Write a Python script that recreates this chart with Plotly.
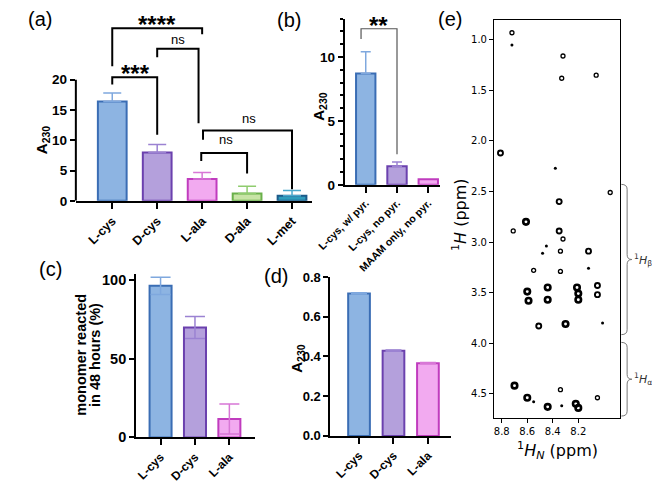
import plotly.graph_objects as go

W, H = 652, 489

# ---------------- data ----------------
a_cats = ["L-cys", "D-cys", "L-ala", "D-ala", "L-met"]
a_vals = [16.4, 8.0, 3.6, 1.2, 0.85]
a_errs = [1.4, 1.3, 1.1, 1.2, 0.85]

b_cats = ["L-cys, w/ pyr.", "L-cys, no pyr.", "MAAM only, no pyr."]
b_vals = [8.7, 1.45, 0.44]
b_errs = [1.7, 0.33, 0.0]

c_cats = ["L-cys", "D-cys", "L-ala"]
c_vals = [96.5, 70.0, 11.7]
c_errs = [5.5, 7.0, 9.5]

d_cats = ["L-cys", "D-cys", "L-ala"]
d_vals = [0.717, 0.429, 0.366]
d_errs = [0.003, 0.003, 0.003]

# significance brackets: (left idx, right idx, label)
a_tests = [(0, 1, "***"), (0, 2, "****"), (1, 2, "ns"), (2, 4, "ns"), (2, 3, "ns")]
b_tests = [(0, 1, "**")]

# 2D NMR peaks (1H_N ppm, 1H ppm, intensity level 0-3)
nmr_hn = [8.72, 8.72, 8.32, 8.33, 8.06, 8.81, 8.38, 7.95, 8.35, 8.61, 8.71, 8.35,
          8.32, 8.45, 8.48, 8.34, 8.12, 8.12, 8.55, 8.34, 8.60, 8.59, 8.44, 8.44,
          8.21, 8.20, 8.20, 8.05, 8.05, 8.51, 8.30, 8.01, 8.70, 8.34, 8.60, 8.55,
          8.44, 8.33, 8.22, 8.20, 8.05]
nmr_h = [0.93, 1.05, 1.16, 1.38, 1.35, 2.12, 2.27, 2.51, 2.60, 2.80, 2.89, 2.89,
         2.97, 3.04, 3.11, 3.09, 3.09, 3.26, 3.28, 3.29, 3.49, 3.58, 3.45, 3.57,
         3.45, 3.51, 3.57, 3.43, 3.52, 3.83, 3.81, 3.80, 4.42, 4.46, 4.54, 4.58,
         4.63, 4.62, 4.60, 4.64, 4.54]
nmr_int = [1, 0, 1, 1, 1, 2, 0, 1, 2, 3, 1, 2,
           1, 0, 0, 1, 2, 0, 1, 1, 3, 3, 3, 3,
           3, 3, 3, 2, 2, 2, 3, 0, 3, 1, 3, 0,
           3, 0, 3, 3, 1]

# ---------------- styling ----------------
FONT = "Liberation Sans, Arial, sans-serif"
NMRFONT = "DejaVu Sans, sans-serif"
FILL = ["#8DB4E2", "#B4A0DC", "#F2AAF0", "#C8E4A6", "#2E9CBC"]
EDGE = ["#3A6DB4", "#6B41AE", "#C03CBE", "#6AB04A", "#1D5B8A"]
ERRC = ["#7FA8DE", "#9B82D2", "#D877D6", "#8FCC6E", "#4AA8CC"]


def pxx(x):
    return x / W


def pyy(y):
    return 1 - y / H


fig = go.Figure()


def add_bars(cats, vals, errs, xa, ya, bw, capw, both):
    for i, (c, v, e) in enumerate(zip(cats, vals, errs)):
        fig.add_trace(go.Bar(
            x=[c], y=[v], width=bw, xaxis=xa, yaxis=ya,
            marker=dict(color=FILL[i], line=dict(color=EDGE[i], width=2)),
            error_y=dict(type="data", symmetric=False, array=[e],
                         arrayminus=[e if both else 0], visible=e > 0,
                         color=ERRC[i], thickness=1.5, width=capw),
            showlegend=False, hoverinfo="skip"))


add_bars(a_cats, a_vals, a_errs, "x", "y", 0.64, 9, False)
add_bars(b_cats, b_vals, b_errs, "x2", "y2", 0.62, 5, False)
add_bars(c_cats, c_vals, c_errs, "x3", "y3", 0.64, 10, True)
add_bars(d_cats, d_vals, d_errs, "x4", "y4", 0.63, 8, True)

# NMR peaks
SYM = {0: "circle", 1: "circle-open", 2: "circle-open", 3: "circle-open"}
SIZE = {0: 3, 1: 4, 2: 5, 3: 5.5}
LW = {0: 0, 1: 1.3, 2: 1.9, 3: 2.6}
fig.add_trace(go.Scatter(
    x=nmr_hn, y=nmr_h, mode="markers", xaxis="x5", yaxis="y5",
    marker=dict(color="black", symbol=[SYM[k] for k in nmr_int],
                size=[SIZE[k] for k in nmr_int], opacity=1,
                line=dict(color="black", width=[LW[k] for k in nmr_int])),
    showlegend=False, hoverinfo="skip"))


def bar_x(domain, rng, cats, fs, anchor):
    return dict(domain=domain, range=rng, type="category", categoryorder="array",
                categoryarray=cats, showline=True, linecolor="black", linewidth=2,
                ticks="outside", ticklen=6, tickwidth=2, tickcolor="black",
                tickangle=-45, showgrid=False, zeroline=False, anchor=anchor,
                tickfont=dict(family=FONT, size=fs, color="black", weight="bold"))


def bar_y(domain, rng, fs, anchor, **kw):
    d = dict(domain=domain, range=rng, showline=True, linecolor="black", linewidth=2,
             ticks="outside", ticklen=5, tickwidth=2, tickcolor="black",
             showgrid=False, zeroline=False, anchor=anchor,
             tickfont=dict(family=FONT, size=fs, color="black", weight="bold"))
    d.update(kw)
    return d


# panel a: y = 0 at 200px, 6.25 px/unit
a_top = 31.5
fig.update_layout(
    xaxis=bar_x([pxx(50), pxx(297)], [-0.81, 4.45], a_cats, 12.5, "y"),
    yaxis=bar_y([pyy(200), pyy(200 - a_top * 6.25)], [0, a_top], 13.5, "x",
                showline=False, tickmode="array", tickvals=[0, 5, 10, 15, 20]),
    xaxis2=bar_x([pxx(331), pxx(430)], [-0.67, 2.36], b_cats, 10.5, "y2"),
    yaxis2=bar_y([pyy(183.5), pyy(183.5 - 13 * 13.2)], [0, 13], 13.5, "x2",
                 tickmode="linear", tick0=0, dtick=5,
                 minor=dict(tickmode="linear", tick0=0, dtick=1, ticks="outside",
                            ticklen=3, tickwidth=1.5, tickcolor="black")),
    xaxis3=bar_x([pxx(113), pxx(237)], [-0.71, 2.74], c_cats, 12, "y3"),
    yaxis3=bar_y([pyy(444), pyy(444 - 104 * 1.62)], [0, 104], 14.5, "x3",
                 tickmode="array", tickvals=[0, 50, 100]),
    xaxis4=bar_x([pxx(316), pxx(442)], [-0.83, 2.67], d_cats, 12, "y4"),
    yaxis4=bar_y([pyy(442.5), pyy(442.5 - 0.8 * 205)], [0, 0.8], 13, "x4",
                 tickmode="linear", tick0=0, dtick=0.2, tickformat=".1f"),
    xaxis5=dict(domain=[pxx(487), pxx(619)], range=[8.86, 7.87], anchor="y5",
                showline=True, mirror=True, linecolor="black", linewidth=1.3,
                ticks="outside", ticklen=4, tickwidth=1, tickcolor="black",
                tickvals=[8.8, 8.6, 8.4, 8.2], tickformat=".1f",
                showgrid=False, zeroline=False,
                tickfont=dict(family=NMRFONT, size=10, color="black")),
    yaxis5=dict(domain=[pyy(424), pyy(13)], range=[4.74, 0.80], anchor="x5",
                showline=True, mirror=True, linecolor="black", linewidth=1.3,
                ticks="outside", ticklen=4, tickwidth=1, tickcolor="black",
                tickvals=[1.0, 1.5, 2.0, 2.5, 3.0, 3.5, 4.0, 4.5], tickformat=".1f",
                showgrid=False, zeroline=False,
                tickfont=dict(family=NMRFONT, size=10, color="black")),
)

shapes = []
annots = []

# y axis line of panel a only up to 20
shapes.append(dict(type="line", xref="x domain", yref="y", x0=0, x1=0, y0=0, y1=20,
                   line=dict(color="black", width=2)))

# bracket geometry for panel a (same order as a_tests)
a_geom = [
    # x-left offset, x-right offset, top, left-leg end, right-leg end, label x, label y
    (0, 0, 20.4, 19.2, 10.9, 0.51, 22.1),
    (0, 0, 28.5, 22.2, 27.5, 1.0, 30.2),
    (0, -0.08, 25.1, 23.7, 12.8, 1.47, 26.7),
    (0.02, 0, 11.6, 10.1, 1.9, 3.04, 13.6),
    (-0.02, 0, 7.9, 6.6, 4.5, 2.53, 10.1),
]
for (i, j, lab), (ol, orr, top, ly, ry, tx, ty) in zip(a_tests, a_geom):
    xl, xr = i + ol, j + orr
    shapes.append(dict(type="path", xref="x", yref="y",
                       path=f"M {xl},{ly} L {xl},{top} L {xr},{top} L {xr},{ry}",
                       line=dict(color="black", width=2)))
    star = lab.startswith("*")
    annots.append(dict(xref="x", yref="y", x=tx, y=ty, text=lab, showarrow=False,
                       xanchor="center", yanchor="middle", yshift=-7 if star else 0,
                       font=dict(family=FONT, size=24 if star else 13, color="black",
                                 weight="bold" if star else "normal")))

b_geom = [(-0.15, 0, 12.2, 11.4, 2.4, 0.42, 13.0)]
for (i, j, lab), (ol, orr, top, ly, ry, tx, ty) in zip(b_tests, b_geom):
    xl, xr = i + ol, j + orr
    shapes.append(dict(type="path", xref="x2", yref="y2",
                       path=f"M {xl},{ly} L {xl},{top} L {xr},{top} L {xr},{ry}",
                       line=dict(color="#555555", width=1.2)))
    annots.append(dict(xref="x2", yref="y2", x=tx, y=ty, text=lab, showarrow=False,
                       xanchor="center", yanchor="middle", yshift=-7,
                       font=dict(family=FONT, size=24, color="black", weight="bold")))


# curly braces for NMR regions
def brace(y0, y1, x0=620, x1=626, tip=631):
    ym = (y0 + y1) / 2
    pts = [("M", [(x0, y0)]), ("Q", [(x1, y0), (x1, y0 + 5)]), ("L", [(x1, ym - 5)]),
           ("Q", [(x1, ym), (tip, ym)]), ("Q", [(x1, ym), (x1, ym + 5)]),
           ("L", [(x1, y1 - 5)]), ("Q", [(x1, y1), (x0, y1)])]
    s = ""
    for cmd, pp in pts:
        s += cmd + " " + " ".join(f"{pxx(a):.5f},{pyy(b):.5f}" for a, b in pp) + " "
    return s.strip(), ym


for (y0, y1, lab) in [(183, 338, "<sup>1</sup><i>H</i><sub>β</sub>"),
                      (346, 422, "<sup>1</sup><i>H</i><sub>α</sub>")]:
    p, ym = brace(y0, y1)
    shapes.append(dict(type="path", xref="paper", yref="paper", path=p,
                       line=dict(color="#777777", width=1)))
    annots.append(dict(xref="paper", yref="paper", x=pxx(631), y=pyy(ym), text=lab,
                       showarrow=False, xanchor="left", yanchor="middle",
                       font=dict(family=NMRFONT, size=11, color="#333333")))

# panel letters
for lab, x, y in [("(a)", 12.5, 12), ("(b)", 273, 13), ("(c)", 24, 270),
                  ("(d)", 259, 277), ("(e)", 441, 12)]:
    annots.append(dict(xref="paper", yref="paper", x=pxx(x), y=pyy(y), text=lab,
                       showarrow=False, xanchor="center", yanchor="middle",
                       font=dict(family=FONT, size=20, color="black")))

# axis titles
for txt, x, y, fs in [("A<sub>230</sub>", 15, 137, 15), ("A<sub>230</sub>", 305, 102, 15),
                      ("A<sub>230</sub>", 282, 362, 15),
                      ("monomer reacted", 55, 359, 14.5), ("in 48 hours (%)", 70, 359, 14.5)]:
    annots.append(dict(xref="paper", yref="paper", x=pxx(x), y=pyy(y), text=txt,
                       showarrow=False, textangle=-90, xanchor="center", yanchor="middle",
                       font=dict(family=FONT, size=fs, color="black", weight="bold")))

annots.append(dict(xref="paper", yref="paper", x=pxx(451), y=pyy(214),
                   text="<sup>1</sup><i>H</i> (ppm)", showarrow=False, textangle=-90,
                   xanchor="center", yanchor="middle",
                   font=dict(family=NMRFONT, size=16, color="black")))
annots.append(dict(xref="paper", yref="paper", x=pxx(553), y=pyy(458),
                   text="<sup>1</sup><i>H<sub>N</sub></i> (ppm)", showarrow=False,
                   xanchor="center", yanchor="middle",
                   font=dict(family=NMRFONT, size=16, color="black")))

fig.update_layout(width=W, height=H, margin=dict(l=0, r=0, t=0, b=0),
                  paper_bgcolor="white", plot_bgcolor="white", barmode="overlay",
                  showlegend=False, shapes=shapes, annotations=annots)

fig.write_html("out.html")
